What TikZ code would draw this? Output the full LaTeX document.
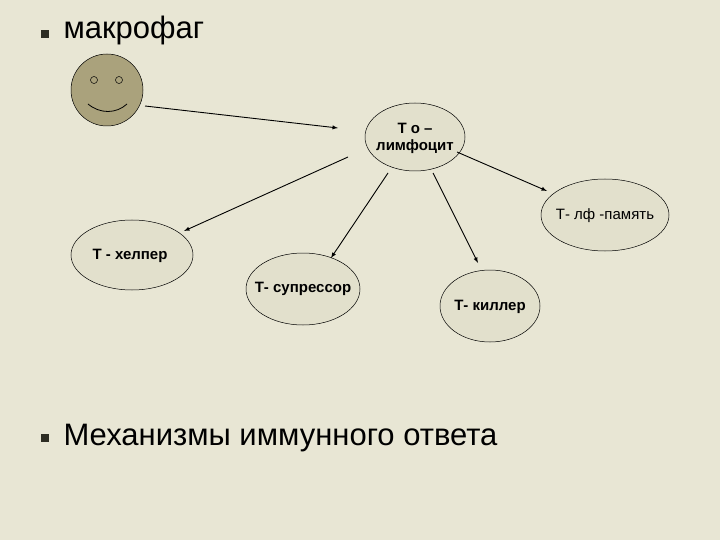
\documentclass[tikz,border=0pt]{standalone}
\usepackage{fontspec}
\setmainfont{Liberation Sans}
\definecolor{bg}{RGB}{232,230,212}
\definecolor{cellfill}{RGB}{226,224,204}
\definecolor{face}{RGB}{170,162,124}
\definecolor{bul}{RGB}{45,45,35}
\begin{document}
\begin{tikzpicture}[x=1pt,y=-1pt,
  cell/.style={draw=black,line width=0.5pt,fill=cellfill},
  lbl/.style={font=\bfseries\fontsize{15}{17}\selectfont},
  arr/.style={-latex,line width=0.9pt},
  title/.style={anchor=west,font=\fontsize{31}{33}\selectfont},
  bullet/.style={fill=bul,minimum size=8pt,inner sep=0pt}]
\fill[bg] (0,0) rectangle (720,540);
\useasboundingbox (0,0) rectangle (720,540);
\node[bullet] (b1) at (45,34) {};
\node[title] (t1) at (60,30) {макрофаг};
\node[bullet] (b2) at (45,438) {};
\node[title] (t2) at (60,438) {Механизмы иммунного ответа};
% smiley
\draw[fill=face,line width=0.5pt] (107,90) ellipse [x radius=36,y radius=36];
\draw[line width=0.5pt] (94,80) circle (3.5) (119,80) circle (3.5);
\draw[line width=0.8pt] (88,104) .. controls (100,114) and (116,114) .. (127,104);
\coordinate (m) at (145,106);
\draw[cell] (415,137) ellipse [x radius=50,y radius=34];
\node[lbl,align=center] (t0) at (415,138) {Т о –\\лимфоцит};
\draw[cell] (605,215) ellipse [x radius=64,y radius=36];
\node[lbl,font=\fontsize{15}{17}\selectfont] (mem) at (605,216) {Т- лф -память};
\draw[cell] (132,255) ellipse [x radius=61,y radius=35];
\node[lbl] (help) at (130,256) {Т - хелпер};
\draw[cell] (303,289) ellipse [x radius=57,y radius=36];
\node[lbl] (sup) at (303,289) {Т- супрессор};
\draw[cell] (490,306) ellipse [x radius=50,y radius=36];
\node[lbl] (kil) at (490,307) {Т- киллер};
\coordinate (a0) at (338,128);
\coordinate (s1) at (348,157); \coordinate (e1) at (184,231);
\coordinate (s2) at (388,173); \coordinate (e2) at (331,258);
\coordinate (s3) at (433,173); \coordinate (e3) at (478,263);
\coordinate (s4) at (457,152); \coordinate (e4) at (547,191);
\draw[arr] (m) -- (a0);
\draw[arr] (s1) -- (e1);
\draw[arr] (s2) -- (e2);
\draw[arr] (s3) -- (e3);
\draw[arr] (s4) -- (e4);
\end{tikzpicture}
\end{document}
